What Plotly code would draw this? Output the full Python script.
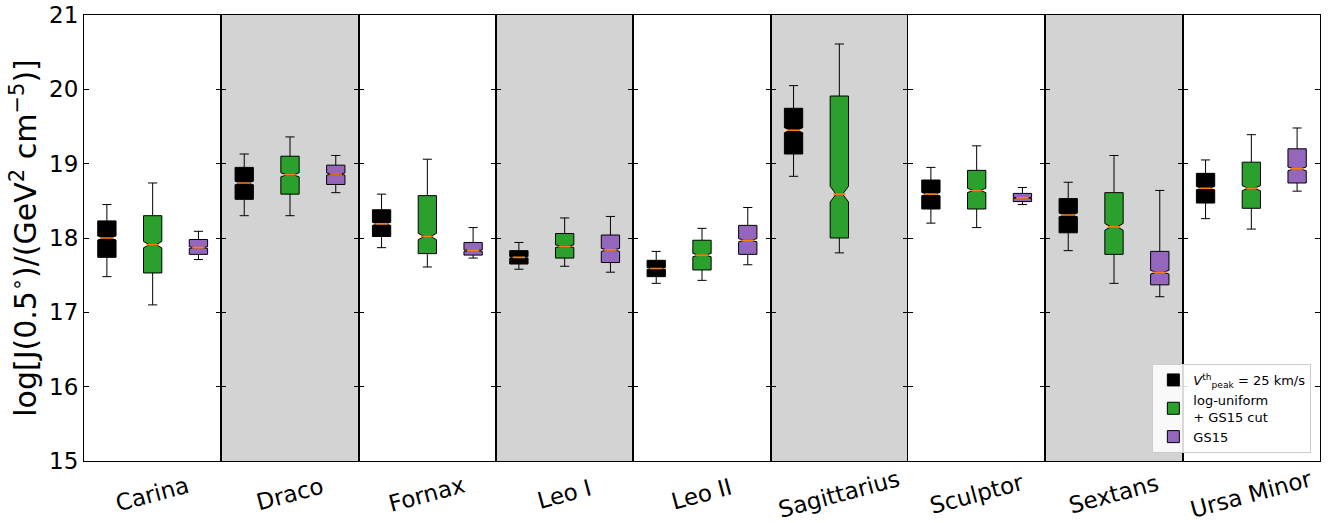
import plotly.graph_objects as go
from plotly.subplots import make_subplots

# Dwarf galaxies shown along the x axis
galaxies = ["Carina", "Draco", "Fornax", "Leo I", "Leo II",
            "Sagittarius", "Sculptor", "Sextans", "Ursa Minor"]

# Box statistics of log J(0.5 deg) for each model: [whisker_lo, q1, median, q3, whisker_hi]
# (None = no prediction for that galaxy)
vpeak = [
    [17.48, 17.74, 18.00, 18.23, 18.45],   # Carina
    [18.30, 18.52, 18.74, 18.95, 19.13],   # Draco
    [17.87, 18.02, 18.19, 18.38, 18.59],   # Fornax
    [17.58, 17.65, 17.74, 17.83, 17.94],   # Leo I
    [17.39, 17.48, 17.59, 17.70, 17.82],   # Leo II
    [18.83, 19.13, 19.45, 19.745, 20.05],  # Sagittarius
    [18.20, 18.39, 18.59, 18.78, 18.95],   # Sculptor
    [17.83, 18.07, 18.31, 18.53, 18.75],   # Sextans
    [18.26, 18.47, 18.67, 18.87, 19.05],   # Ursa Minor
]
loguniform_cut = [
    [17.10, 17.53, 17.91, 18.30, 18.74],
    [18.30, 18.59, 18.85, 19.10, 19.36],
    [17.61, 17.79, 18.02, 18.57, 19.06],
    [17.62, 17.73, 17.89, 18.06, 18.27],
    [17.43, 17.57, 17.77, 17.97, 18.13],
    [17.80, 18.00, 18.59, 19.91, 20.61],
    [18.14, 18.39, 18.64, 18.91, 19.24],
    [17.39, 17.78, 18.15, 18.61, 19.11],
    [18.12, 18.40, 18.67, 19.02, 19.39],
]
gs15 = [
    [17.71, 17.78, 17.87, 17.98, 18.09],
    [18.61, 18.72, 18.86, 18.98, 19.11],
    [17.73, 17.77, 17.83, 17.94, 18.14],
    [17.54, 17.67, 17.84, 18.04, 18.29],
    [17.64, 17.78, 17.97, 18.17, 18.41],
    None,
    [18.45, 18.49, 18.54, 18.60, 18.68],
    [17.21, 17.37, 17.54, 17.82, 18.64],
    [18.63, 18.74, 18.93, 19.20, 19.48],
]

series = [
    ("<i>V</i><sup>th</sup><sub>peak</sub> = 25 km/s", vpeak, "#000000"),
    ("log-uniform<br>+ GS15 cut", loguniform_cut, "#2ca02c"),
    ("GS15", gs15, "#9467bd"),
]

# relative half-size of the median notch
NOTCH_K = 0.055
MEDIAN_COLOR = "#ff7f0e"
BOX_W = 0.4
NOTCH_W = 0.32

n = len(galaxies)
fig = make_subplots(rows=1, cols=n, shared_yaxes=True, horizontal_spacing=0)

for i, gal in enumerate(galaxies):
    col = i + 1
    mx, my = [], []
    for k, (label, data, color) in enumerate(series):
        stats = data[i]
        if stats is None:
            continue
        lo, q1, med, q3, hi = stats
        pos = k + 1
        fig.add_trace(go.Box(
            x=[pos], q1=[q1], median=[med], q3=[q3],
            lowerfence=[lo], upperfence=[hi],
            notched=True, notchspan=[NOTCH_K * (q3 - q1)],
            notchwidth=NOTCH_W, width=BOX_W, whiskerwidth=0.5,
            fillcolor=color, line=dict(color="black", width=1),
            boxpoints=False, name=label, legendgroup=label,
            showlegend=(i == 0), hoverinfo="skip",
        ), row=1, col=col)
        half = BOX_W / 2 * (1 - NOTCH_W)
        mx += [pos - half, pos + half, None]
        my += [med, med, None]
    fig.add_trace(go.Scatter(
        x=mx, y=my, mode="lines", line=dict(color=MEDIAN_COLOR, width=1.6),
        showlegend=False, hoverinfo="skip",
    ), row=1, col=col)

    sfx = "" if col == 1 else str(col)
    if i % 2 == 1:
        fig.add_shape(type="rect", xref=f"x{sfx} domain", yref=f"y{sfx} domain",
                      x0=0, x1=1, y0=0, y1=1, fillcolor="#d3d3d3",
                      line=dict(width=0), layer="below")
    fig.add_annotation(text=gal, xref=f"x{sfx} domain", yref="paper",
                       x=0.5, y=-0.075, yanchor="middle", showarrow=False,
                       textangle=-15, font=dict(size=23, color="black"))

fig.update_xaxes(range=[0.5, 3.5], showgrid=False, zeroline=False,
                 showticklabels=False, ticks="", showline=True, mirror=True,
                 linecolor="black", linewidth=1, automargin=False)
fig.update_yaxes(range=[15, 21], tickvals=[15, 16, 17, 18, 19, 20, 21],
                 showgrid=False, zeroline=False, ticks="inside", ticklen=5,
                 tickcolor="black", showline=True, mirror="ticks",
                 linecolor="black", linewidth=1, automargin=False,
                 tickfont=dict(size=23, color="black"))
fig.update_yaxes(title=dict(
    text="log[J(0.5<sup>∘</sup>)/(GeV<sup>2</sup> cm<sup>−5</sup>)]",
    font=dict(size=30, color="black"), standoff=3), row=1, col=1)

fig.update_layout(
    width=1338, height=523,
    margin=dict(l=84, r=18, t=15, b=62, autoexpand=False),
    paper_bgcolor="white", plot_bgcolor="white",
    font=dict(family="DejaVu Sans", color="black"),
    boxmode="overlay",
    legend=dict(x=0.993, y=0.018, xanchor="right", yanchor="bottom",
                bgcolor="rgba(255,255,255,0.85)", bordercolor="#cccccc",
                borderwidth=1, font=dict(size=13), tracegroupgap=0,
                itemwidth=30),
)

fig.write_html("out.html")
